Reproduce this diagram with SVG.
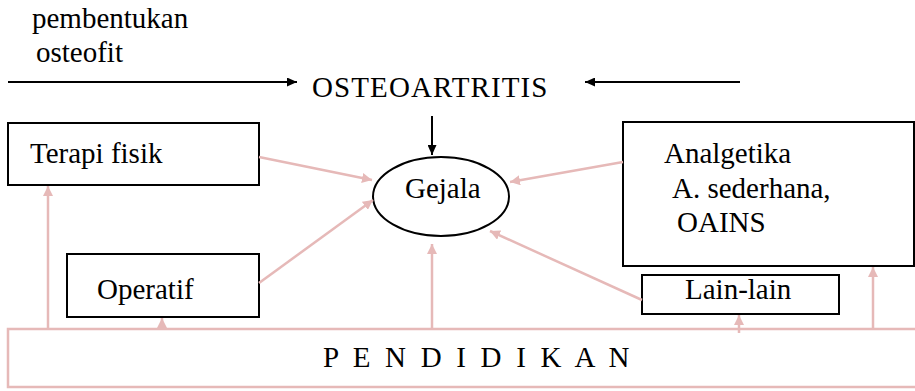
<svg xmlns="http://www.w3.org/2000/svg" width="915" height="391" viewBox="0 0 915 391">
<style>
text{font-family:'Liberation Serif','Times New Roman',serif;font-size:29px;fill:#000}
.box{fill:#fff;stroke:#000;stroke-width:2}
.blk{stroke:#000;stroke-width:2;fill:none}
.pk{stroke:#E6B9B8;stroke-width:2.5;fill:none}
</style>
<defs>
<marker id="ab" markerUnits="userSpaceOnUse" markerWidth="11" markerHeight="9" refX="10" refY="4.5" orient="auto"><path d="M0,0 L10,4.5 L0,9 z" fill="#000"/></marker>
<marker id="ap" markerUnits="userSpaceOnUse" markerWidth="11" markerHeight="10" refX="10" refY="5" orient="auto"><path d="M0,0 L10,5 L0,10 z" fill="#E6B9B8"/></marker>
</defs>
<g id="label-top">
<text x="32" y="28">pembentukan</text>
<text x="36" y="62">osteofit</text>
</g>
<g id="pendidikan">
<rect x="8" y="329" width="920" height="58" fill="#fff" stroke="#E6B9B8" stroke-width="2.5"/>
<text x="323" y="367" letter-spacing="3.7">P E N D I D I K A N</text>
</g>
<g id="osteoartritis"><text x="312" y="97" letter-spacing="1.1">OSTEOARTRITIS</text></g>
<g id="terapi"><rect class="box" x="8" y="123" width="251" height="62"/><text x="30" y="163">Terapi fisik</text></g>
<g id="operatif"><rect class="box" x="67" y="254" width="192" height="63"/><text x="97" y="299">Operatif</text></g>
<g id="analgetika"><rect class="box" x="623" y="122" width="291" height="144"/>
<text x="664" y="163">Analgetika</text><text x="672" y="198">A. sederhana,</text><text x="677" y="232">OAINS</text></g>
<g id="lain"><rect class="box" x="642" y="275" width="197" height="39"/><text x="685" y="299">Lain-lain</text></g>
<g id="gejala"><ellipse cx="441" cy="196.5" rx="68" ry="39.5" fill="#fff" stroke="#000" stroke-width="2"/><text x="405" y="198">Gejala</text></g>
<g id="connectors">
<line class="blk" x1="8" y1="82" x2="297" y2="82" marker-end="url(#ab)"/>
<line class="blk" x1="740" y1="82" x2="585" y2="82" marker-end="url(#ab)"/>
<line class="blk" x1="432" y1="116" x2="432" y2="155" marker-end="url(#ab)"/>
<line class="pk" x1="259" y1="157" x2="372" y2="180" marker-end="url(#ap)"/>
<line class="pk" x1="259" y1="283" x2="373" y2="200" marker-end="url(#ap)"/>
<line class="pk" x1="623" y1="162" x2="510" y2="182" marker-end="url(#ap)"/>
<line class="pk" x1="642" y1="300" x2="490" y2="231" marker-end="url(#ap)"/>
<line class="pk" x1="432" y1="329" x2="432" y2="244" marker-end="url(#ap)"/>
<line class="pk" x1="48" y1="329" x2="48" y2="186" marker-end="url(#ap)"/>
<line class="pk" x1="162" y1="330" x2="162" y2="318" marker-end="url(#ap)"/>
<line class="pk" x1="739" y1="333" x2="739" y2="315" marker-end="url(#ap)"/>
<line class="pk" x1="873" y1="329" x2="873" y2="267" marker-end="url(#ap)"/>
</g>
</svg>
